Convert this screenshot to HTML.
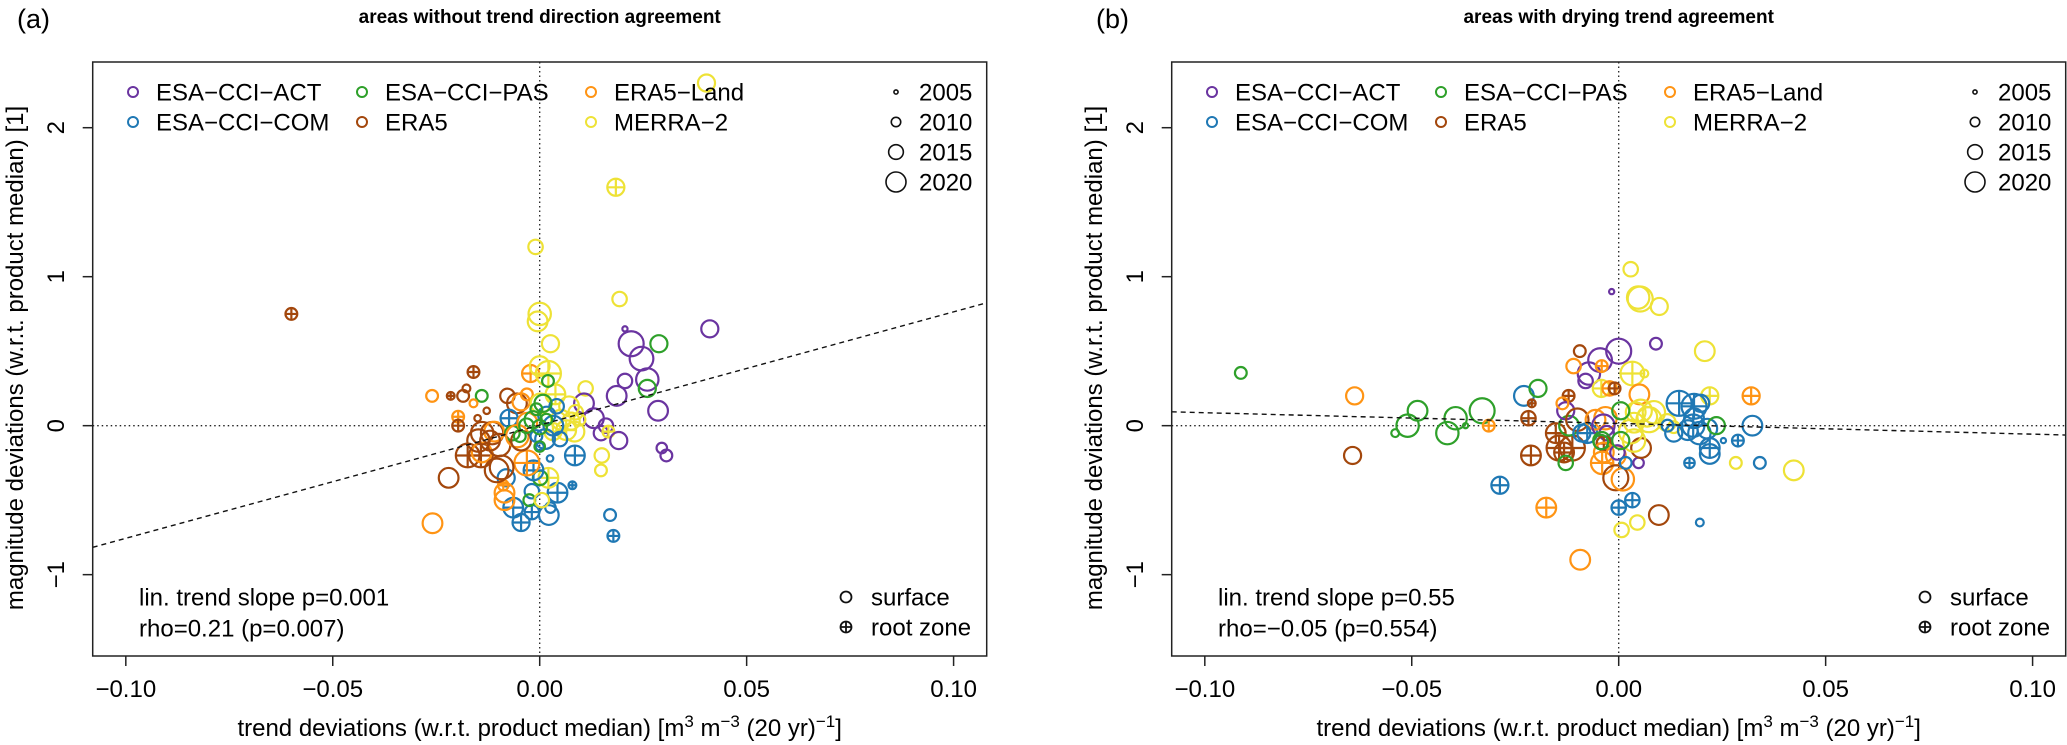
<!DOCTYPE html>
<html><head><meta charset="utf-8"><style>
html,body{margin:0;padding:0;background:#fff;}
svg{display:block;font-family:"Liberation Sans",Arial,sans-serif;}
</style></head><body>
<svg id="fig" width="2067" height="745" viewBox="0 0 2067 745" xmlns="http://www.w3.org/2000/svg"></svg>
<script>
// ---- chart data ----
const productNames = ["ESA\u2212CCI\u2212ACT","ESA\u2212CCI\u2212COM","ESA\u2212CCI\u2212PAS","ERA5","ERA5\u2212Land","MERRA\u22122"];
const productColors = ["#6a34a0","#1f78b4","#2ea02a","#a3470c","#ff9414","#eee236"];
const legendYears = [2005,2010,2015,2020];
const xTicks = [-0.10,-0.05,0.00,0.05,0.10];
const xTickLabels = ["\u22120.10","\u22120.05","0.00","0.05","0.10"];
const yTicks = [-1,0,1,2];
const yTickLabels = ["\u22121","0","1","2"];
const panelTitles = ["areas without trend direction agreement","areas with drying trend agreement"];
const panelLetters = ["(a)","(b)"];
const statLine1 = ["lin. trend slope p=0.001","lin. trend slope p=0.55"];
const statLine2 = ["rho=0.21 (p=0.007)","rho=\u22120.05 (p=0.554)"];
const trendIntercept = [0.004,0.015];
const trendSlope = [7.6,-0.72];

const aX = [-0.001,0,-0.0005,0.0026,0.0193,0.0411,0.0206,0.0221,0.0288,0.0246,
0.0206,0.026,0.026,0.0186,0.0286,0.0111,0.0107,0.0131,0.016,0.0148,
0.0166,0.0191,0.0295,0.0306,0.015,0.0148,0.0085,0.0079,0.017,0.0178,
0.0022,0.0043,-0.0064,-0.0045,-0.0019,-0.0019,0.0026,-0.0025,0.0005,0.0021,
0.0001,-0.0015,0.0025,-0.0081,-0.0031,-0.0085,-0.0085,-0.0088,-0.0259,-0.022,
-0.0174,-0.0142,-0.014,-0.0104,-0.0092,-0.0139,-0.0115,-0.011,-0.0148,-0.012,
-0.0098,-0.0078,-0.0055,-0.0045,-0.0031,-0.0022,-0.0074,-0.0066,-0.003,-0.0054,
-0.0045,-0.016,-0.0215,-0.0185,-0.0177,-0.014,-0.026,-0.016,-0.0128,-0.015,
-0.0197,-0.0197,-0.06,0.0403,0.0184,0.0021,0.0038,0,0.0002,0.0071,
0.0087,0.0032,0.0064,0.0076,0.0051,0.0096,0.0084,0.0017,0.0041,0.0033,
-0.0008,0.0013,0.0049,0,-0.0016,0.0008,0.002,-0.0032,0,-0.0048,
0.0016,-0.0008,0];
const aY = [1.2,0.75,0.7,0.55,0.85,0.65,0.65,0.55,0.55,0.45,
0.3,0.31,0.25,0.2,0.1,0.25,0.15,0.05,0,-0.05,
-0.04,-0.1,-0.15,-0.2,-0.2,-0.3,-0.2,-0.4,-0.6,-0.74,
-0.6,-0.45,-0.55,-0.65,-0.58,-0.44,-0.55,-0.5,-0.5,-0.35,
-0.35,-0.3,-0.22,-0.35,-0.25,-0.45,-0.5,-0.4,-0.655,-0.35,
-0.2,-0.2,-0.18,-0.3,-0.28,-0.05,-0.05,-0.04,-0.1,-0.1,
-0.13,0.2,0.15,0.16,0.21,0.35,0.05,-0.05,0.02,-0.07,
-0.1,0.36,0.2,0.2,0.25,0.2,0.2,0.15,0.1,0.05,
0.06,0,0.75,2.3,1.6,0.35,0.21,0.4,0.15,0.13,
0.09,-0.04,-0.03,0.03,0.04,0.04,-0.04,0.07,0.13,0,
-0.07,-0.09,-0.09,-0.14,0.04,0.15,0.3,0,-0.01,-0.07,
0.04,0.11,-0.14];
const aProd = [5,5,5,5,5,0,0,0,2,0, 0,0,2,0,0,5,0,0,0,0, 5,0,0,0,5,5,1,1,1,1,
1,1,1,1,1,1,1,2,5,5, 2,1,1,1,4,4,4,4,4,3, 3,3,4,3,3,3,3,4,3,3,
3,3,3,4,4,4,1,2,4,4, 3,3,3,3,3,2,4,4,3,3, 4,3,3,5,5,5,5,5,5,5,
5,5,5,5,5,5,5,1,1,1, 1,1,1,1,2,2,2,2,2,2, 2,2,2];
const aYear = [2012,2018,2016,2014,2012,2014,2005,2020,2014,2019,
2012,2018,2014,2016,2016,2012,2016,2016,2012,2012,
2010,2014,2009,2010,2012,2010,2016,2007,2010,2010,
2016,2016,2016,2014,2012,2012,2009,2010,2012,2016,
2012,2016,2006,2014,2020,2016,2016,2009,2016,2016,
2019,2019,2016,2019,2019,2018,2018,2016,2018,2016,
2018,2012,2016,2014,2010,2014,2014,2012,2016,2018,
2016,2010,2007,2010,2007,2010,2010,2007,2006,2006,
2010,2010,2010,2014,2014,2020,2016,2016,2016,2016,
2012,2014,2016,2014,2016,2010,2016,2014,2012,2016,
2010,2016,2012,2007,2014,2014,2010,2012,2012,2010,
2010,2010,2009];
const aRoot = [0,0,0,0,0,0,0,0,0,0, 0,0,0,0,0,0,0,0,0,0, 1,0,0,0,0,0,1,1,0,1,
0,1,1,1,1,0,0,0,0,1, 0,1,0,0,1,0,0,1,0,0, 1,1,0,0,0,0,0,0,0,0,
0,0,0,0,0,1,1,0,0,0, 0,1,1,0,0,0,0,0,0,0, 1,1,1,0,1,1,1,0,0,0,
0,1,1,0,0,0,0,0,0,0, 0,0,0,0,0,0,0,0,0,0, 0,0,0];

const bX = [-0.0913,-0.0638,-0.0643,-0.054,-0.051,-0.0486,-0.0414,0.0029,-0.0017,0.0052,
0.0047,0.0098,0.009,0.0208,0,-0.0045,-0.0072,-0.008,-0.0094,-0.0109,
-0.0041,0.0033,0.0062,-0.0042,-0.0022,-0.001,0.005,0.022,0.032,-0.0229,
-0.0195,-0.0121,-0.021,-0.0394,-0.033,-0.037,-0.0314,-0.0218,-0.0152,-0.0144,
-0.0112,-0.0132,-0.0212,-0.0128,-0.012,-0.0128,-0.0136,-0.01,-0.0076,-0.0056,
-0.0032,-0.0037,-0.0029,-0.0041,-0.0036,-0.004,-0.0036,-0.0007,-0.0003,-0.0007,
0.001,0.0017,0.0048,0.0054,0.0053,0.0073,0.0085,0.0037,0.0029,0.0117,
0.0133,0.0037,0.0069,0.0041,0.0005,0.0005,-0.0043,0.0146,0.0182,0.0198,
0.0182,0.0133,0.0167,0.0195,0.018,0.0214,0.022,0.022,0.0253,0.0323,
0.0288,0.0341,0.0171,0.0118,0.0236,0.0283,0.0423,-0.0287,-0.0175,0,
0.0033,0.0097,0.0045,0.0007,0.0196,-0.0093,-0.0089];
const bY = [0.354,0.2,-0.2,-0.05,0,0.1,-0.05,1.05,0.9,0.85,
0.86,0.8,0.55,0.5,0.5,0.44,0.35,0.3,0.5,0.4,
0.4,0.35,0.35,0.25,0.25,0.25,0.21,0.2,0.2,0.2,
0.25,0.2,0.15,0.05,0.1,0,0,0.05,-0.05,-0.15,
-0.15,-0.18,-0.2,-0.25,0,0.1,0.15,0.04,-0.05,0.04,
0.05,0,-0.05,-0.1,-0.12,-0.25,-0.18,-0.2,-0.18,-0.35,
-0.36,-0.25,-0.25,-0.15,0.1,0.04,0.09,0.02,-0.04,0.02,
-0.01,-0.1,0.06,0.09,0.1,-0.1,-0.11,0.15,0.13,0.15,
0.05,-0.05,-0.03,-0.05,0,-0.02,-0.15,-0.19,-0.1,0,
-0.1,-0.25,-0.25,0,0,-0.25,-0.3,-0.4,-0.55,-0.55,
-0.5,-0.6,-0.65,-0.7,-0.65,-0.9,-0.05];
const bProd = [2,4,3,2,2,2,2,5,0,5, 5,5,0,5,0,0,0,0,3,4, 4,5,5,5,4,3,4,5,4,1,
2,3,3,2,2,2,4,3,3,3, 3,3,3,2,2,0,4,3,1,4, 4,0,0,2,3,4,4,4,0,3,
4,1,0,3,5,5,5,5,5,5, 5,5,5,5,2,2,2,1,1,1, 1,1,1,1,1,1,1,1,1,1,
1,1,1,1,2,5,5,1,4,1, 1,3,5,5,1,4,1];
const bYear = [2010,2014,2014,2007,2018,2016,2018,2012,2005,2020,
2018,2014,2010,2016,2020,2019,2018,2012,2010,2012,
2010,2019,2007,2014,2012,2010,2016,2014,2014,2016,
2014,2010,2007,2018,2020,2005,2010,2012,2016,2020,
2020,2016,2016,2012,2016,2014,2010,2018,2016,2016,
2018,2018,2012,2014,2012,2018,2016,2016,2012,2020,
2018,2010,2009,2016,2018,2020,2018,2016,2019,2014,
2010,2018,2016,2016,2014,2014,2012,2020,2020,2014,
2016,2014,2016,2018,2018,2016,2016,2016,2005,2016,
2010,2010,2009,2010,2014,2010,2016,2014,2016,2012,
2012,2016,2012,2012,2007,2016,2014];
const bRoot = [0,0,0,0,0,0,0,0,0,0, 0,0,0,0,0,0,0,0,0,0, 1,1,0,1,1,1,0,1,1,0,
0,1,1,0,0,0,1,1,1,1, 1,1,1,0,0,0,0,0,1,0, 0,0,0,0,1,1,0,0,0,0,
0,0,0,0,0,0,0,0,0,0, 0,0,0,0,0,0,0,1,1,0, 0,0,0,0,1,0,1,0,0,0,
1,0,1,0,0,0,0,1,1,1, 1,0,0,0,0,0,0];

// ---- drawing ----
const NS = "http://www.w3.org/2000/svg";
const svg = document.getElementById('fig');
function mk(tag, attrs, parent, text){
  const e = document.createElementNS(NS, tag);
  for (const k in attrs) e.setAttribute(k, attrs[k]);
  if (text !== undefined) e.textContent = text;
  (parent || svg).appendChild(e);
  return e;
}
const X0 = 92.7, X1 = 986.7, Y0 = 62, Y1 = 656;
const XMIN = -0.108, XMAX = 0.108, YMIN = -1.546, YMAX = 2.441;
function rOf(yr){ return 2.6 + (yr - 2005) * 0.66; }

function drawPanel(k, xs, ys, ps, yrs, roots){
  const off = k * 1079;
  const sx = v => off + X0 + (v - XMIN) / (XMAX - XMIN) * (X1 - X0);
  const sy = v => Y1 - (v - YMIN) / (YMAX - YMIN) * (Y1 - Y0);
  const g = mk('g', {});
  
  

  const lt = mk('text', {x: off + 17, y: 28, 'font-size': 27}, g, panelLetters[k]);
  
  
  const tt = mk('text', {x: off + (X0 + X1) / 2, y: 23, 'font-size': 19, 'font-weight': 'bold', 'text-anchor': 'middle'}, g, panelTitles[k]);
  
  

  const zl1 = mk('line', {x1: sx(0), x2: sx(0), y1: Y0, y2: Y1, stroke: '#222', 'stroke-width': 1.3, 'stroke-dasharray': '1.5,3'}, g);
  
  
  const zl2 = mk('line', {x1: off + X0, x2: off + X1, y1: sy(0), y2: sy(0), stroke: '#222', 'stroke-width': 1.3, 'stroke-dasharray': '1.5,3'}, g);
  
  

  const pg = mk('g', {}, g);
  
  
  const n = Math.min(xs.length, ys.length, ps.length, yrs.length, roots.length);
  for (let i = 0; i < n; i++){
    const cx = sx(xs[i]), cy = sy(ys[i]), r = rOf(yrs[i]), col = productColors[ps[i]];
    const c = mk('circle', {cx: cx, cy: cy, r: r, fill: 'none', stroke: col, 'stroke-width': 2.2}, pg);
    
    
    if (roots[i]){
      mk('path', {d: `M${cx - r} ${cy}H${cx + r}M${cx} ${cy - r}V${cy + r}`, stroke: col, 'stroke-width': 2.2, fill: 'none'}, pg);
    }
  }

  const tl = mk('line', {x1: sx(XMIN), y1: sy(trendIntercept[k] + trendSlope[k] * XMIN), x2: sx(XMAX), y2: sy(trendIntercept[k] + trendSlope[k] * XMAX), stroke: '#111', 'stroke-width': 1.4, 'stroke-dasharray': '5,4'}, g);
  
  

  const fr = mk('rect', {x: off + X0, y: Y0, width: X1 - X0, height: Y1 - Y0, fill: 'none', stroke: '#222', 'stroke-width': 1.5}, g);
  
  

  const xa = mk('g', {}, g);
  
  
  xTicks.forEach((t, i) => {
    mk('line', {x1: sx(t), x2: sx(t), y1: Y1, y2: Y1 + 10, stroke: '#222', 'stroke-width': 1.5}, xa);
    const l = mk('text', {x: sx(t), y: 697, 'font-size': 24, 'text-anchor': 'middle'}, xa, xTickLabels[i]);
    
    
  });
  const xt = mk('text', {x: off + (X0 + X1) / 2, y: 736, 'font-size': 24, 'text-anchor': 'middle'}, g);
  
  
  xt.innerHTML = 'trend deviations (w.r.t. product median) [m<tspan dy="-9" font-size="17">3</tspan><tspan dy="9"> m</tspan><tspan dy="-9" font-size="17">\u22123</tspan><tspan dy="9"> (20 yr)</tspan><tspan dy="-9" font-size="17">\u22121</tspan><tspan dy="9">]</tspan>';

  const ya = mk('g', {}, g);
  
  
  yTicks.forEach((t, i) => {
    mk('line', {x1: off + X0 - 10, x2: off + X0, y1: sy(t), y2: sy(t), stroke: '#222', 'stroke-width': 1.5}, ya);
    const l = mk('text', {x: off + 64, y: sy(t), 'font-size': 24, 'text-anchor': 'middle', transform: `rotate(-90 ${off + 64} ${sy(t)})`}, ya, yTickLabels[i]);
    
    
  });
  const yt = mk('text', {x: off + 23, y: 358, 'font-size': 24, 'text-anchor': 'middle', transform: `rotate(-90 ${off + 23} 358)`}, g, 'magnitude deviations (w.r.t. product median) [1]');
  
  

  const lg = mk('g', {}, g);
  
  
  const colX = [133, 362, 591];
  productNames.forEach((nm, i) => {
    const col = Math.floor(i / 2), row = i % 2;
    const cy = 92 + row * 30;
    const e = mk('g', {}, lg);
    
    
    mk('circle', {cx: off + colX[col], cy: cy, r: 5, fill: 'none', stroke: productColors[i], 'stroke-width': 2}, e);
    mk('text', {x: off + colX[col] + 23, y: cy + 8.5, 'font-size': 24}, e, nm);
  });

  const sg = mk('g', {}, g);
  
  
  legendYears.forEach((yr, i) => {
    const cy = 92 + i * 30;
    const e = mk('g', {}, sg);
    
    
    mk('circle', {cx: off + 896, cy: cy, r: rOf(yr) * 0.8, fill: 'none', stroke: '#111', 'stroke-width': 1.6}, e);
    mk('text', {x: off + 919, y: cy + 8.5, 'font-size': 24}, e, String(yr));
  });

  const ll = mk('g', {}, g);
  
  
  const e1 = mk('g', {}, ll);
  
  
  mk('circle', {cx: off + 846, cy: 597, r: 5.5, fill: 'none', stroke: '#111', 'stroke-width': 1.8}, e1);
  mk('text', {x: off + 871, y: 605.5, 'font-size': 24}, e1, 'surface');
  const e2 = mk('g', {}, ll);
  
  
  mk('circle', {cx: off + 846, cy: 627, r: 5.5, fill: 'none', stroke: '#111', 'stroke-width': 1.8}, e2);
  mk('path', {d: `M${off + 840.5} 627H${off + 851.5}M${off + 846} 621.5V632.5`, stroke: '#111', 'stroke-width': 1.8}, e2);
  mk('text', {x: off + 871, y: 635.5, 'font-size': 24}, e2, 'root zone');

  const s1 = mk('text', {x: off + 139, y: 605.5, 'font-size': 24}, g, statLine1[k]);
  
  
  const s2 = mk('text', {x: off + 139, y: 636.5, 'font-size': 24}, g, statLine2[k]);
  
  
}
drawPanel(0, aX, aY, aProd, aYear, aRoot);
drawPanel(1, bX, bY, bProd, bYear, bRoot);
</script>
</body></html>
